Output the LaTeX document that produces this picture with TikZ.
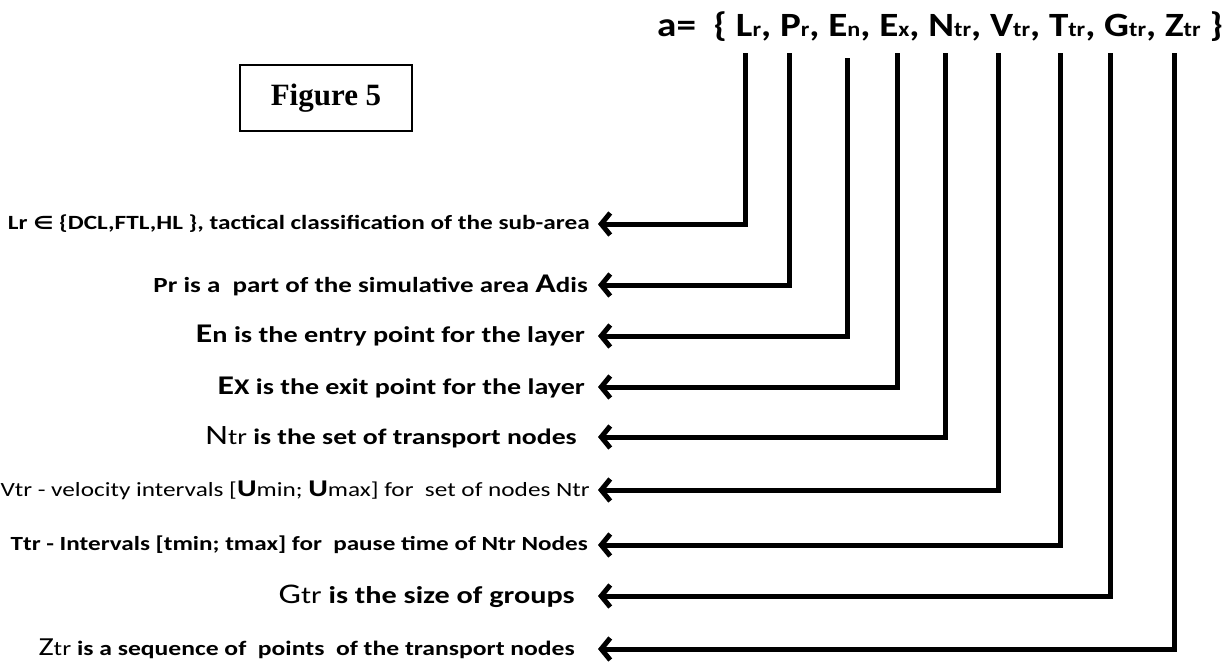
\documentclass[tikz,border=0pt]{standalone}
\usepackage{fontspec}
\setmainfont{Carlito}
\newfontfamily\serifbf{Liberation Serif}
\newfontfamily\symf{DejaVu Sans}
\usetikzlibrary{arrows.meta}
\newcommand{\fs}[1]{\fontsize{#1}{#1}\selectfont}
\newcommand{\ssub}[1]{{\fs{21}#1}}
\begin{document}
\begin{tikzpicture}[x=1pt,y=-1pt,
  conn/.style={line width=5pt,-{Straight Barb[length=9pt,width=22pt]}},
  lab/.style={anchor=east,inner ysep=0pt,inner xsep=#1,xscale=1.25}]
\useasboundingbox (0,0) rectangle (1228,665);
% formula
\node[anchor=base west,inner sep=0pt,xscale=1.15,font=\fs{34}\bfseries] (F) at (657,36)
 {a=\ \ \{ L\ssub{r}, P\ssub{r}, E\ssub{n}, E\ssub{x}, N\ssub{tr}, V\ssub{tr}, T\ssub{tr}, G\ssub{tr}, Z\ssub{tr} \}};
% figure box
\node[draw,line width=2pt,minimum width=172pt,minimum height=66pt,font=\serifbf\fs{31}\bfseries] (fig) at (326,98) {Figure 5};
% top coordinates
\coordinate (tL) at (745,53);
\coordinate (tP) at (789,53);
\coordinate (tE) at (847,58);
\coordinate (tX) at (897,53);
\coordinate (tN) at (945,53);
\coordinate (tV) at (998,53);
\coordinate (tT) at (1060,53);
\coordinate (tG) at (1110,53);
\coordinate (tZ) at (1174,53);
% labels
\node[lab=6.4pt,font=\fs{20.2}\bfseries] (lL) at (598,224) {Lr {\symf\fs{18}∈} \{DCL,FTL,HL \}, tactical classification of the sub-area};
\node[lab=8pt,font=\fs{21.6}\bfseries] (lP) at (598,285) {Pr is a\ \ part of the simulative area {\fs{27}A}dis};
\node[lab=10.4pt,font=\fs{22.6}\bfseries] (lE) at (598,336) {{\fs{27}E}n is the entry point for the layer};
\node[lab=10.4pt,font=\fs{22.4}\bfseries] (lX) at (598,387) {{\fs{27}E}X is the exit point for the layer};
\node[lab=16.8pt,font=\fs{22.2}\bfseries] (lN) at (598,437) {{\fs{28}\mdseries N}{\mdseries tr} is the set of transport nodes};
\node[lab=6.4pt,font=\fs{20.2}\mdseries] (lV) at (598,490) {Vtr - velocity intervals [{\bfseries\fs{24}U}min; {\bfseries\fs{24}U}max] for\ \ set of nodes Ntr};
\node[lab=8pt,font=\fs{20.1}\bfseries] (lT) at (598,545) {Ttr - Intervals [tmin; tmax] for\ \ pause time of Ntr Nodes};
\node[lab=18.4pt,font=\fs{24.2}\bfseries] (lG) at (598,596) {{\fs{28.5}\mdseries G}{\mdseries tr} is the size of groups};
\node[lab=18.4pt,font=\fs{20.5}\bfseries] (lZ) at (598,649) {{\fs{26}\mdseries Z}{\mdseries tr} is a sequence of\ \ points\ \ of the transport nodes};
% connectors
\draw[conn] (tL) |- (lL);
\draw[conn] (tP) |- (lP);
\draw[conn] (tE) |- (lE);
\draw[conn] (tX) |- (lX);
\draw[conn] (tN) |- (lN);
\draw[conn] (tV) |- (lV);
\draw[conn] (tT) |- (lT);
\draw[conn] (tG) |- (lG);
\draw[conn] (tZ) |- (lZ);
\end{tikzpicture}
\end{document}
